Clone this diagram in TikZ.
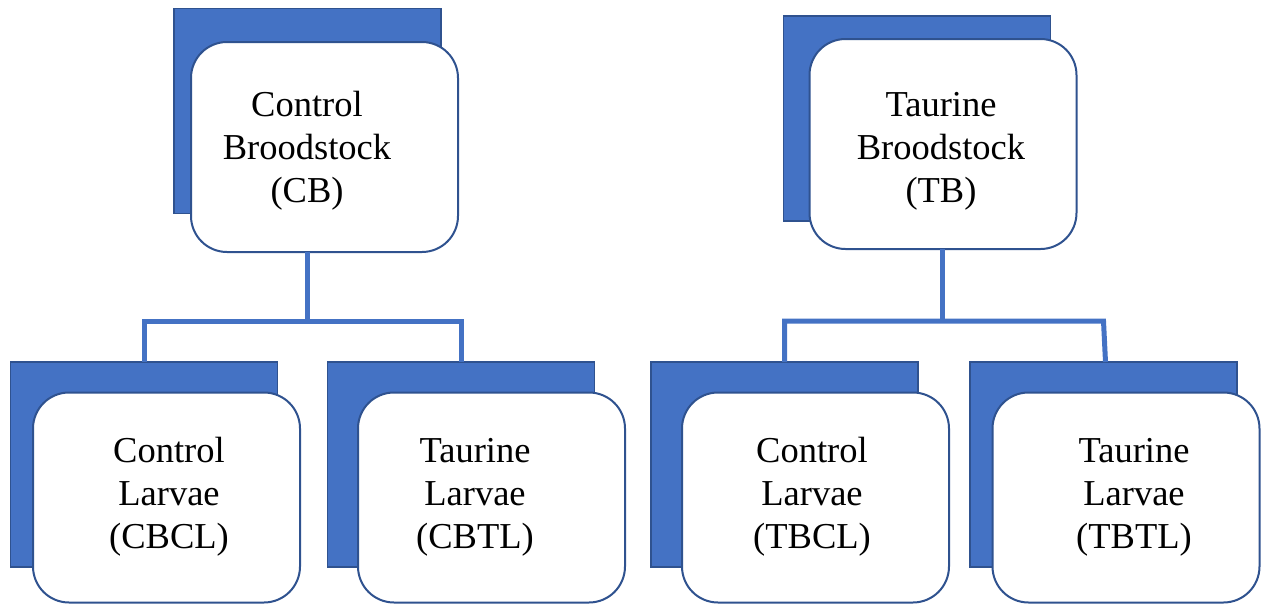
\documentclass[tikz,border=0pt]{standalone}
\usepackage{fontspec}
\setmainfont{Liberation Serif}
\definecolor{accent}{HTML}{4472C4}
\definecolor{edge}{HTML}{2F528F}
\begin{document}
\begin{tikzpicture}[x=1pt,y=-1pt,
  backbox/.style={draw=edge,fill=accent,line width=1.5pt,inner sep=0pt,outer sep=0pt,minimum width=267pt,minimum height=205pt},
  frontbox/.style={draw=edge,fill=white,line width=2pt,rounded corners=36pt,inner sep=0pt,outer sep=0pt,minimum width=267pt,minimum height=210pt},
  label/.style={align=center,font=\fontsize{36.5pt}{43pt}\selectfont,inner sep=0pt},
  link/.style={draw=accent,line width=5pt,line join=miter}]
\useasboundingbox (0,0) rectangle (1262,603);
% top boxes
\node[backbox] (cbBack) at (307.5,111) {};
\node[frontbox] (cb) at (324.5,147) {};
\node[label] (cbText) at (307,151) {Control\\Broodstock\\(CB)};
\node[backbox] (tbBack) at (917,118.5) {};
\node[frontbox] (tb) at (943,144) {};
\node[label] (tbText) at (941,151) {Taurine\\Broodstock\\(TB)};
% bottom boxes
\node[backbox] (cbclBack) at (144,464.5) {};
\node[frontbox] (cbcl) at (166.5,497.5) {};
\node[label] (cbclText) at (169,497) {Control\\Larvae\\(CBCL)};
\node[backbox] (cbtlBack) at (461,464.5) {};
\node[frontbox] (cbtl) at (491.5,497.5) {};
\node[label] (cbtlText) at (475,497) {Taurine\\Larvae\\(CBTL)};
\node[backbox] (tbclBack) at (784.5,464.5) {};
\node[frontbox] (tbcl) at (815.5,497.5) {};
\node[label] (tbclText) at (812,497) {Control\\Larvae\\(TBCL)};
\node[backbox] (tbtlBack) at (1103.5,464.5) {};
\node[frontbox] (tbtl) at (1126,497.5) {};
\node[label] (tbtlText) at (1134,497) {Taurine\\Larvae\\(TBTL)};
% connectors
\coordinate (cbBar) at (307.5,321);
\coordinate (tbBar) at (942,321);
\draw[link] (cbBack.center |- cb.south) -- (cbBar);
\draw[link] (cbclBack.north) -- (cbclBack.north |- cbBar) -- (cbtlBack.north |- cbBar) -- (cbtlBack.north);
\draw[link] (tbBar |- tb.south) -- (tbBar);
\draw[link] (tbclBack.north) -- (tbclBack.north |- tbBar) -- (tbtlBack.north |- tbBar) -- ([xshift=2pt]tbtlBack.north);
\end{tikzpicture}
\end{document}
